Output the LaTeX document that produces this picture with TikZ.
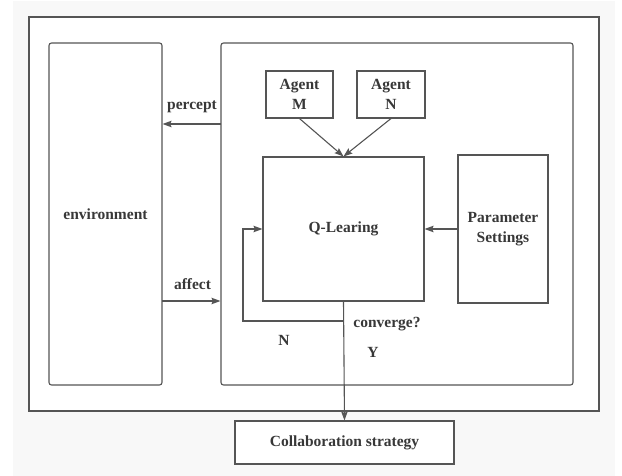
\documentclass[tikz,border=0pt]{standalone}
\usepackage{fontspec}
\setmainfont{Liberation Serif}
\usetikzlibrary{arrows.meta,calc}
\definecolor{ln}{HTML}{555555}
\definecolor{tx}{HTML}{383838}
\definecolor{bg}{HTML}{F8F8F8}
\begin{document}
\begin{tikzpicture}[x=1pt,y=-1pt,
  txt/.style={font=\bfseries\fontsize{15.5}{20}\selectfont,text=tx,align=center},
  box/.style={draw=ln,line width=1.1pt,fill=white,inner sep=0pt,txt},
  rbox/.style={box,rounded corners=2.5pt},
  conn/.style={draw=ln,line width=1.1pt},
  arr/.style={conn,-{Stealth[length=9pt,width=6.5pt,inset=1.5pt]}}]
\useasboundingbox (0,0) rectangle (622,476);
\fill[bg] (13,1) rectangle (615,476);
% outer frame
\node[box,minimum width=570pt,minimum height=394pt] (outer) at (314,214) {};
% environment and agent system boxes
\node[rbox,minimum width=113pt,minimum height=342pt] (env) at (105.5,214) {environment};
\node[rbox,minimum width=352pt,minimum height=342pt] (sys) at (397,214) {};
% agents
\node[box,minimum width=67pt,minimum height=47pt] (am) at (299.5,94.5) {Agent\\M};
\node[box,minimum width=68pt,minimum height=47pt] (an) at (391,94.5) {Agent\\N};
% Q-learning
\node[box,minimum width=161pt,minimum height=144pt] (q) at (343.5,229) {Q-Learing};
% parameter settings
\node[box,minimum width=90pt,minimum height=148pt] (ps) at (503,229) {Parameter\\Settings};
% collaboration strategy
\node[box,minimum width=219pt,minimum height=43pt] (cs) at (344.5,442.5) {Collaboration strategy};
% connectors
\coordinate (pc) at (221,124);
\coordinate (af) at (162,301);
\draw[arr] (pc) -- (pc -| env.east);
\draw[arr] (af) -- (af -| sys.west);
\draw[arr] (am.south) -- (q.north);
\draw[arr] (an.south) -- (q.north);
\draw[arr] (ps.west) -- (q.east);
\coordinate (fb) at (243,321);
\draw[arr] (q.south) |- (fb) |- (q.west);
\draw[arr] (q.south) -- (cs.north);
% labels
\node[txt] (lp) at (192,107) {percept};
\node[txt] (la) at (192.5,284) {affect};
\node[txt] (lc) at (387,324) {converge?};
\node[txt] (ln) at (284,340) {N};
\node[txt] (ly) at (373,352) {Y};
\end{tikzpicture}
\end{document}
